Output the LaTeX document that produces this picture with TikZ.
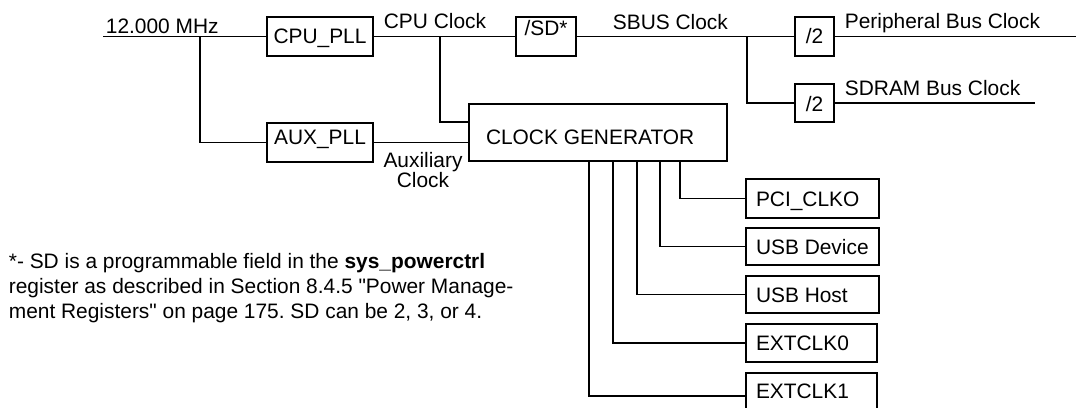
\documentclass[tikz,border=0pt]{standalone}
\usepackage{fontspec}
\setmainfont{Liberation Sans}[Ligatures=TeXOff]
\usetikzlibrary{calc}
\begin{document}
\frenchspacing
\begin{tikzpicture}[x=1pt,y=-1pt, line width=1.8pt,
  every node/.style={font=\fontsize{20.9}{25}\selectfont},
  blk/.style={draw, inner sep=0pt, line width=1.8pt},
  outbox/.style={blk, inner xsep=10pt},
  lbl/.style={anchor=base west, inner sep=0pt}]
\useasboundingbox (0,0) rectangle (1076,407);

% blocks
\node[blk, minimum width=106pt, minimum height=39pt, text height=26pt, text depth=13pt] (cpupll) at (320,36.5) {CPU\_PLL};
\node[blk, minimum width=60pt, minimum height=39pt, text height=18pt, text depth=21pt] (sd) at (546,36.5) {/SD*};
\node[blk, minimum width=39pt, minimum height=39pt, text height=26pt, text depth=13pt] (div1) at (814.5,36.5) {/2};
\node[blk, minimum width=39pt, minimum height=38pt, text height=27pt, text depth=11pt] (div2) at (814.5,103) {/2};
\node[blk, minimum width=106pt, minimum height=39pt, text height=21pt, text depth=18pt] (auxpll) at (320,142.5) {AUX\_PLL};
\node[blk, inner xsep=17pt, minimum height=57pt, text height=40pt, text depth=17pt] (cg) at (598,132.5) {\makebox[224pt][l]{CLOCK GENERATOR}};

\node[outbox, minimum height=39pt, text height=27pt, text depth=12pt] (pci) at (812.5,198.5) {\makebox[113pt][l]{PCI\_CLKO}};
\node[outbox, minimum height=37pt, text height=26pt, text depth=11pt] (usbd) at (812.5,246.5) {\makebox[113pt][l]{USB Device}};
\node[outbox, minimum height=37pt, text height=26pt, text depth=11pt] (usbh) at (812.5,294.5) {\makebox[113pt][l]{USB Host}};
\node[outbox, minimum height=38pt, text height=26pt, text depth=12pt] (ext0) at (811.5,343) {\makebox[111pt][l]{EXTCLK0}};
\node[outbox, minimum height=46pt, text height=25pt, text depth=21pt] (ext1) at (811.5,396) {\makebox[111pt][l]{EXTCLK1}};

% labels
\node[lbl] (mhz) at (105,33) {12.000 MHz};
\node[lbl] (cpuclk) at (383,28) {CPU Clock};
\node[lbl] (sbus) at (612,29) {SBUS Clock};
\node[lbl] (pbc) at (844,28) {Peripheral Bus Clock};
\node[lbl] (sdram) at (844,95) {SDRAM Bus Clock};
\node[align=center, anchor=north, inner sep=0pt, font=\fontsize{20.9}{20}\selectfont] (auxclk) at (423,151) {Auxiliary\\Clock};

\node[lbl] (fn1) at (8,268) {*- SD is a programmable field in the \textbf{sys\_powerctrl}};
\node[lbl] (fn2) at (8,293) {register as described in Section 8.4.5 "Power Manage-};
\node[lbl] (fn3) at (8,318) {ment Registers" on page 175. SD can be 2, 3, or 4.};

% coordinates
\coordinate (in) at (103,36.5);
\coordinate (j1) at (200,36.5);
\coordinate (j2) at (440,36.5);
\coordinate (j3) at (747,36.5);
\coordinate (pe) at (1076,36.5);
\coordinate (se) at (1035,103);
\coordinate (d1) at (589,0);
\coordinate (d2) at (613,0);
\coordinate (d3) at (637,0);
\coordinate (d4) at (660,0);
\coordinate (d5) at (680,0);

% connectors
\draw (in) -- (cpupll.west);
\draw (j1) |- (auxpll.west);
\draw (cpupll.east) -- (sd.west);
\draw (j2) |- ([yshift=10.5pt]cg.west);
\draw (auxpll.east) -- (auxpll.east -| cg.west);
\draw (sd.east) -- (div1.west);
\draw (j3) |- (div2.west);
\draw (div1.east) -- (pe);
\draw (div2.east) -- (se);
\draw (cg.south -| d5) |- (pci.west);
\draw (cg.south -| d4) |- (usbd.west);
\draw (cg.south -| d3) |- (usbh.west);
\draw (cg.south -| d2) |- (ext0.west);
\draw (cg.south -| d1) |- (ext1.west);
\end{tikzpicture}
\end{document}
